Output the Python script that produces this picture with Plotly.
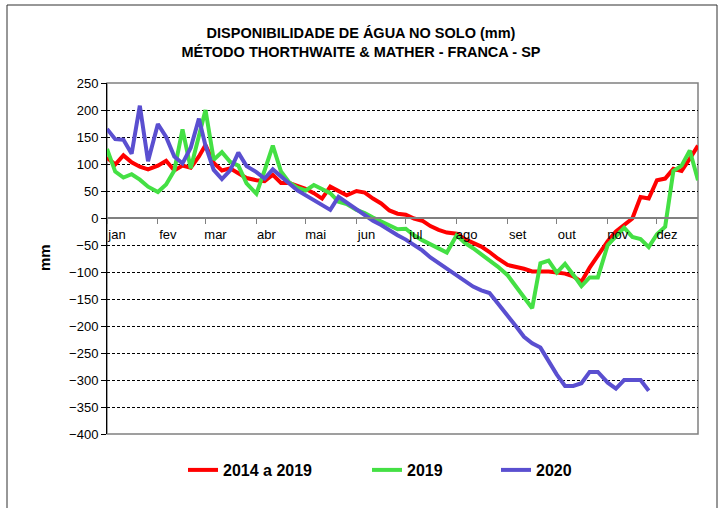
import plotly.graph_objects as go

# ---- data ----
months = ["jan", "fev", "mar", "abr", "mai", "jun", "jul", "ago", "set", "out", "nov", "dez"]
days = [1, 6, 11, 16, 21, 26]
dates = [f"2020-{m:02d}-{d:02d}" for m in range(1, 13) for d in days]
month_starts = [f"2020-{m:02d}-01" for m in range(1, 13)]

media_2014_2019 = [
    112, 99, 116, 103, 95, 90,
    97, 106, 88, 97, 93, 114,
    135, 102, 88, 92, 83, 74,
    70, 68, 80, 65, 65, 59,
    54, 46, 36, 58, 50, 42,
    50, 47, 36, 27, 14, 8,
    6, -1, -5, -15, -22, -27,
    -29, -39, -46, -53, -63, -75,
    -87, -90, -94, -99, -99, -99,
    -101, -103, -108, -118, -92, -70,
    -43, -25, -12, -1, 39, 36,
    70, 73, 91, 87, 110, 134,
]
ano_2019 = [
    128, 86, 75, 81, 71, 58,
    48, 62, 88, 164, 92, 150,
    200, 108, 122, 104, 97, 64,
    45, 88, 134, 86, 66, 56,
    51, 61, 54, 46, 30, 26,
    15, 9, 1, -6, -14, -21,
    -20, -32, -41, -48, -56, -64,
    -32, -46, -56, -67, -78, -90,
    -106, -127, -145, -167, -84, -79,
    -101, -85, -105, -126, -110, -110,
    -50, -35, -18, -35, -39, -54,
    -30, -16, 87, 97, 125, 70,
]
ano_2020 = [
    165, 146, 145, 119, 208, 105,
    174, 150, 114, 101, 130, 184,
    134, 89, 72, 88, 121, 96,
    85, 73, 90, 78, 64, 51,
    42, 34, 26, 15, 39, 28,
    16, 6, -5, -13, -23, -32,
    -40, -50, -60, -73, -83, -94,
    -105, -116, -127, -134, -139, -158,
    -180, -200, -220, -232, -240, -265,
    -290, -311, -311, -306, -285, -285,
    -305, -316, -300, -300, -300, -320,
    None, None, None, None, None, None,
]

series_names = ["2014 a 2019", "2019", "2020"]
series_colors = ["#FF0000", "#44E044", "#5A4FD0"]

# ---- figure geometry (pixels) ----
W, H = 722, 508
L, R, T, B = 107, 24, 83, 74
pw, ph = W - L - R, H - T - B


def px_x(x):
    return (x - L) / pw


def px_y(y):
    return (H - B - y) / ph


fig = go.Figure()
legends = ["legend", "legend2", "legend3"]
for name, vals, col, lg in zip(series_names, [media_2014_2019, ano_2019, ano_2020], series_colors, legends):
    fig.add_trace(go.Scatter(
        x=dates, y=vals, name=name, mode="lines",
        line=dict(color=col, width=4),
        legend=lg, connectgaps=False,
    ))

font_fam = "Arial, Liberation Sans, sans-serif"
leg_font = dict(family=font_fam, size=16, color="black", weight="bold")
leg_y = px_y(470)

fig.update_layout(
    width=W, height=H,
    margin=dict(l=L, r=R, t=T, b=B),
    paper_bgcolor="white", plot_bgcolor="white",
    font=dict(family=font_fam, size=13, color="black"),
    title=dict(
        text="DISPONIBILIDADE DE ÁGUA NO SOLO (mm)<br>MÉTODO THORTHWAITE & MATHER - FRANCA - SP",
        x=0.5, xref="container", xanchor="center",
        y=1 - 38 / H, yref="container", yanchor="middle",
        font=dict(family=font_fam, size=14.5, color="black", weight="bold"),
    ),
    legend=dict(x=px_x(183), y=leg_y, xanchor="left", yanchor="middle",
                orientation="h", font=leg_font, bgcolor="rgba(0,0,0,0)"),
    legend2=dict(x=px_x(367), y=leg_y, xanchor="left", yanchor="middle",
                 orientation="h", font=leg_font, bgcolor="rgba(0,0,0,0)"),
    legend3=dict(x=px_x(496), y=leg_y, xanchor="left", yanchor="middle",
                 orientation="h", font=leg_font, bgcolor="rgba(0,0,0,0)"),
    showlegend=True,
)

fig.update_xaxes(
    type="date",
    range=["2020-01-01", "2020-12-26"],
    anchor="free", position=(0 - (-400)) / 650,
    tickmode="array", tickvals=month_starts, ticktext=months,
    ticklabelshift=10,
    ticks="outside", ticklen=5, tickcolor="#808080", tickwidth=1,
    showline=True, linecolor="#808080", linewidth=1.5,
    showgrid=False, zeroline=False,
    tickfont=dict(family=font_fam, size=13, color="black"),
)

fig.update_yaxes(
    range=[-400, 250], dtick=50, tick0=0,
    showline=True, linecolor="black", linewidth=1,
    ticks="outside", ticklen=5, tickcolor="black",
    showgrid=True, gridcolor="black", gridwidth=1, griddash="3px,2px",
    zeroline=False,
    tickfont=dict(family=font_fam, size=13, color="black"),
)

# plot-area frame (gray) and outer chart frame
fig.add_shape(type="rect", xref="paper", yref="paper", x0=0, x1=1, y0=0, y1=1,
              line=dict(color="#808080", width=1.5), layer="between")
fig.add_shape(type="rect", xref="paper", yref="paper",
              x0=px_x(7), x1=px_x(717), y0=px_y(520), y1=px_y(5),
              line=dict(color="#303030", width=1), layer="below")

# y axis title
fig.add_annotation(text="mm", xref="paper", yref="paper", x=px_x(44), y=px_y(258),
                   textangle=-90, showarrow=False, xanchor="center", yanchor="middle",
                   font=dict(family=font_fam, size=15, color="black", weight="bold"))

fig.write_html("out.html", config={"displayModeBar": False},
               post_script="document.body.style.margin='0';")
